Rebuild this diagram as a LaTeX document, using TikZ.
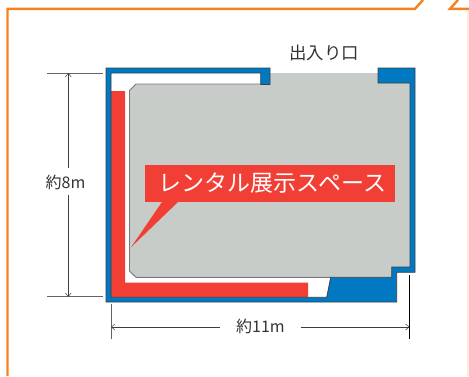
\documentclass[tikz,border=0pt]{standalone}
\usepackage{fontspec}
\setmainfont{Noto Sans CJK JP}
\usetikzlibrary{arrows.meta}
\definecolor{wallblue}{HTML}{0079C2}
\definecolor{floorgray}{HTML}{C8CCC9}
\definecolor{labelred}{HTML}{F23F36}
\definecolor{frameorange}{HTML}{F58220}
\definecolor{darkline}{HTML}{3A3F45}
\definecolor{inktext}{HTML}{333333}
\tikzset{
  framestroke/.style={draw=frameorange,line width=2.4pt},
  wallshape/.style={fill=wallblue,draw=darkline,line width=.8pt,line join=miter},
  floorshape/.style={fill=floorgray},
  redshape/.style={fill=labelred},
  tickline/.style={draw=darkline!80,line width=.8pt},
  dimline/.style={draw=darkline,line width=.7pt,-{Straight Barb[length=3.5pt,width=6pt,line width=.5pt]}},
  dimtext/.style={font=\fontsize{16}{18}\selectfont,text=inktext,inner sep=0pt},
  calloutlabel/.style={font=\fontsize{23}{25}\selectfont,text=white,inner sep=0pt}
}
\begin{document}
\begin{tikzpicture}[x=1pt,y=-1pt]
\useasboundingbox (0,0) rectangle (469,376);
% page frame
\draw[framestroke] (7.5,376) -- (7.5,8.8) -- (415,8.8) -- (423,0);
\draw[framestroke] (458,0) -- (450,8.8) -- (469,8.8);
\draw[draw=frameorange!15,line width=1.5pt] (468,10) -- (468,376);
% white room interior and floor
\fill[white] (111,73) rectangle (410,297);
\path[floorshape] (136,84) -- (270,84) -- (270,73) -- (378,73) -- (378,83) -- (410,83) -- (410,267) -- (391.7,267) -- (391.7,277.3) -- (136,277.3) -- (129.5,271) -- (129.5,90.5) -- cycle;
\draw[draw=darkline!70,line width=.9pt] (129.5,180) -- (129.5,90.5) -- (136,84) -- (260.7,84);
\draw[draw=darkline!70,line width=.9pt] (129.5,180) -- (129.5,271) -- (136,277.3) -- (330.7,277.3);
% red strip
\path[redshape] (111,91) -- (125,91) -- (125,282.7) -- (308,282.7) -- (308,297.3) -- (111,297.3) -- cycle;
% walls
\path[wallshape] (106,68) -- (270,68) -- (270,84.5) -- (260.7,84.5) -- (260.7,73) -- (111,73) -- (111,297.3) -- (326.7,297.3) -- (330.7,277.3) -- (391.7,277.3) -- (391.7,267) -- (410,267) -- (410,83) -- (378,83) -- (378,68) -- (415,68) -- (415,272.3) -- (396.7,272.3) -- (396.7,302) -- (106,302) -- cycle;
% callout
\path[redshape] (162,202) -- (131,247.3) -- (178,202) -- cycle;
\node[redshape,minimum width=250pt,minimum height=37pt,inner sep=0pt] (callout) at (270,183.5) {};
\node[calloutlabel] (calloutText) at (272.5,183.5) {レンタル展示スペース};
% entrance label
\node[dimtext,font=\fontsize{17.4}{19}\selectfont] (entrance) at (324,53) {出入り口};
% height dimension
\coordinate (hTopL) at (47,73);
\coordinate (hTopR) at (103,73);
\coordinate (hBotL) at (47,296.8);
\coordinate (hBotR) at (103,296.8);
\coordinate (hTop) at (68.3,73);
\coordinate (hBot) at (68.3,296.8);
\node[dimtext] (hLabel) at (65.5,182) {約8m};
\draw[tickline] (hTopL) -- (hTopR);
\draw[tickline] (hBotL) -- (hBotR);
\draw[dimline] (68.3,168) -- (hTop);
\draw[dimline] (68.3,195) -- (hBot);
% width dimension
\coordinate (wLeftA) at (111,304);
\coordinate (wLeftB) at (111,339);
\coordinate (wRightA) at (409.5,275);
\coordinate (wRightB) at (409.5,339);
\coordinate (wL) at (111,327);
\coordinate (wR) at (409.5,327);
\node[dimtext] (wLabel) at (260.5,326) {約11m};
\draw[tickline] (wLeftA) -- (wLeftB);
\draw[tickline,draw=black] (wRightA) -- (wRightB);
\draw[dimline] (220,327) -- (wL);
\draw[dimline] (300.7,327) -- (wR);
\end{tikzpicture}
\end{document}
